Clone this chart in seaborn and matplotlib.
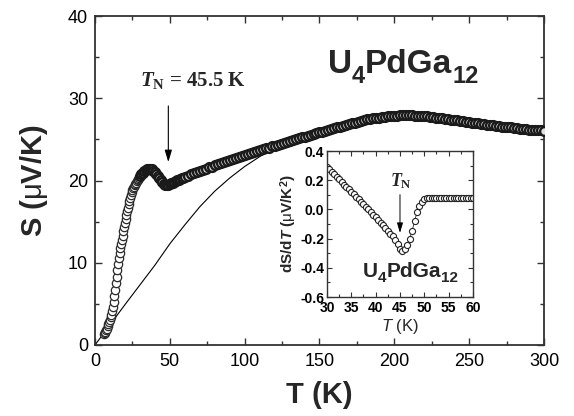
import numpy as np
import pandas as pd
import matplotlib
matplotlib.use("Agg")
import matplotlib.pyplot as plt
from matplotlib.transforms import offset_copy
import seaborn as sns

# ---------------- data ----------------
T_low = [6.0, 6.5, 7.0, 7.5, 8.0, 8.5, 9.0, 9.5, 10.0, 10.5, 11.0, 11.5, 12.0, 12.5,
         13.0, 13.5, 14.0, 14.5, 15.0, 15.5, 16.0, 16.5, 17.0, 17.5, 18.0, 18.5, 19.0,
         19.5, 20.0, 20.5, 21.0, 21.5, 22.0, 22.5, 23.0, 23.5, 24.0, 24.5, 25.0, 25.5,
         26.0, 26.5, 27.0, 27.5, 28.0, 28.5, 29.0, 29.5]
S_low = [1.3, 1.45, 1.6, 1.8, 2.0, 2.25, 2.5, 2.75, 3.0, 3.35, 3.7, 4.1, 4.6, 5.2,
         5.9, 6.7, 7.5, 8.3, 9.1, 9.9, 10.6, 11.2, 11.8, 12.3, 12.8, 13.3, 13.8,
         14.3, 14.8, 15.3, 15.8, 16.3, 16.7, 17.1, 17.5, 17.9, 18.25, 18.55, 18.85, 19.05,
         19.2, 19.4, 19.6, 19.75, 19.9, 20.05, 20.2, 20.35]

T_mid = [30, 31, 32, 33, 34, 35, 36, 37, 38, 39, 40, 41, 42, 43, 44, 45, 46, 47, 48,
         49, 50, 51, 52, 53, 54, 55, 56, 57, 58, 59]
S_mid = [20.5, 20.75, 20.95, 21.1, 21.25, 21.35, 21.4, 21.4, 21.35, 21.2, 21.0, 20.8,
         20.55, 20.3, 20.05, 19.8, 19.6, 19.45, 19.4, 19.45, 19.55, 19.65, 19.75, 19.85,
         19.95, 20.05, 20.1, 20.2, 20.3, 20.35]

T_high = [60, 62, 64, 66, 68, 70, 72, 74, 76, 78, 80, 82, 84, 86, 88, 90, 92, 94, 96, 98,
          100, 102, 104, 106, 108, 110, 112, 114, 116, 118, 120, 122, 124, 126, 128, 130,
          132, 134, 136, 138, 140, 142, 144, 146, 148, 150, 152, 154, 156, 158, 160, 162,
          164, 166, 168, 170, 172, 174, 176, 178, 180, 182, 184, 186, 188, 190, 192, 194,
          196, 198, 200, 202, 204, 206, 208, 210, 212, 214, 216, 218, 220, 222, 224, 226,
          228, 230, 232, 234, 236, 238, 240, 242, 244, 246, 248, 250, 252, 254, 256, 258,
          260, 262, 264, 266, 268, 270, 272, 274, 276, 278, 280, 282, 284, 286, 288, 290,
          292, 294, 296, 298, 300]
S_high = [20.45, 20.6, 20.75, 20.9, 21.05, 21.2, 21.3, 21.45, 21.6, 21.7, 21.85, 21.95,
          22.1, 22.2, 22.35, 22.45, 22.6, 22.7, 22.85, 22.95, 23.1, 23.2, 23.3, 23.45,
          23.55, 23.65, 23.8, 23.9, 24.0, 24.15, 24.25, 24.35, 24.45, 24.6, 24.7, 24.8,
          24.9, 25.0, 25.15, 25.25, 25.35, 25.45, 25.55, 25.65, 25.75, 25.85, 25.95, 26.05,
          26.15, 26.25, 26.35, 26.45, 26.55, 26.65, 26.75, 26.85, 26.95, 27.05, 27.15,
          27.25, 27.35, 27.45, 27.5, 27.55, 27.6, 27.65, 27.7, 27.75, 27.8, 27.85, 27.9,
          27.9, 27.95, 27.95, 27.95, 27.95, 27.95, 27.9, 27.9, 27.85, 27.85, 27.8, 27.75,
          27.7, 27.65, 27.6, 27.55, 27.5, 27.45, 27.4, 27.35, 27.3, 27.25, 27.2, 27.15,
          27.1, 27.05, 27.0, 26.95, 26.9, 26.85, 26.8, 26.75, 26.7, 26.65, 26.6, 26.55,
          26.5, 26.5, 26.45, 26.4, 26.35, 26.3, 26.3, 26.25, 26.2, 26.2, 26.15, 26.1,
          26.1, 26.05]

fit_T = [0, 10, 20, 30, 40, 50, 60, 70, 80, 90, 100, 110, 120, 130, 140, 150, 160, 170,
         180, 190, 200, 210, 220, 230, 240, 250, 260, 270, 280, 290, 300]
fit_S = [0.0, 2.45, 4.9, 7.3, 9.7, 12.3, 14.6, 16.8, 18.7, 20.3, 21.7, 22.9, 23.9, 24.8,
         25.4, 25.85, 26.35, 26.85, 27.35, 27.65, 27.9, 27.95, 27.85, 27.6, 27.35, 27.1,
         26.85, 26.6, 26.4, 26.2, 26.05]

ins_T = [30.0, 30.5, 31.0, 31.5, 32.0, 32.5, 33.0, 33.5, 34.0, 34.5, 35.0, 35.5, 36.0,
         36.5, 37.0, 37.5, 38.0, 38.5, 39.0, 39.5, 40.0, 40.5, 41.0, 41.5, 42.0, 42.5,
         43.0, 43.5, 44.0, 44.5, 45.0, 45.5, 46.0, 46.5, 47.0, 47.5, 48.0, 48.5, 49.0,
         49.5, 50.0, 50.5, 51.0, 51.5, 52.0, 52.5, 53.0, 53.5, 54.0, 54.5, 55.0, 55.5,
         56.0, 56.5, 57.0, 57.5, 58.0, 58.5, 59.0, 59.5, 60.0]
ins_dS = [0.29, 0.275, 0.255, 0.24, 0.22, 0.205, 0.19, 0.17, 0.155, 0.14, 0.12, 0.105,
          0.085, 0.07, 0.05, 0.035, 0.015, 0.0, -0.02, -0.035, -0.055, -0.075, -0.09,
          -0.11, -0.125, -0.145, -0.165, -0.185, -0.21, -0.24, -0.27, -0.285, -0.27,
          -0.245, -0.2, -0.145, -0.08, -0.02, 0.025, 0.05, 0.07, 0.08, 0.08, 0.08, 0.08,
          0.08, 0.08, 0.08, 0.08, 0.08, 0.08, 0.08, 0.08, 0.08, 0.08, 0.08, 0.08, 0.08,
          0.08, 0.08, 0.08]

main_xticks = [0, 50, 100, 150, 200, 250, 300]
main_yticks = [0, 10, 20, 30, 40]
ins_xticks = [30, 35, 40, 45, 50, 55, 60]
ins_yticks = [-0.6, -0.4, -0.2, 0.0, 0.2, 0.4]
ins_yticklabels = ["-0.6", "-0.4", "-0.2", "0.0", "0.2", "0.4"]

formula_parts = [("U", False), ("4", True), ("PdGa", False), ("12", True)]

# ---------------- style ----------------
sns.set_theme(style="ticks")
plt.rcParams["font.family"] = ["Liberation Sans", "DejaVu Sans"]
plt.rcParams["mathtext.fontset"] = "custom"
plt.rcParams["mathtext.rm"] = "Liberation Sans"
plt.rcParams["mathtext.bf"] = "Liberation Sans:bold"
plt.rcParams["mathtext.it"] = "Liberation Serif:italic:bold"
plt.rcParams["mathtext.cal"] = "Liberation Serif:bold"
plt.rcParams["mathtext.sf"] = "Liberation Sans:italic:bold"
plt.rcParams["mathtext.tt"] = "Liberation Sans:italic"

low_df = pd.DataFrame({"T": T_low, "S": S_low})
band_df = pd.DataFrame({"T": T_mid + T_high, "S": S_mid + S_high})
fit_df = pd.DataFrame({"T": fit_T, "S": fit_S})
ins_df = pd.DataFrame({"T": ins_T, "dS": ins_dS})

fig = plt.figure(figsize=(5.74, 4.16), dpi=100)
renderer = fig.canvas.get_renderer()


def formula(axis, x, y, big, small, drop):
    cur = 0.0
    for s, is_sub in formula_parts:
        size = small if is_sub else big
        dy = -drop if is_sub else 0.0
        tr = offset_copy(axis.transData, fig=fig, x=cur, y=dy, units="points")
        t = axis.text(x, y, s, transform=tr, fontsize=size, fontweight="bold",
                      ha="left", va="baseline", zorder=6)
        cur += t.get_window_extent(renderer).width * 72.0 / fig.dpi


ax = fig.add_axes([0.1655, 0.1707, 0.7822, 0.7908])

spine_c = "#333333"
sns.lineplot(data=fit_df, x="T", y="S", ax=ax, color="black", linewidth=0.8, zorder=2)
sns.scatterplot(data=low_df, x="T", y="S", ax=ax, marker="o", s=36,
                facecolor="white", edgecolor="#2a2a2a", linewidth=0.9, zorder=3)
sns.scatterplot(data=band_df, x="T", y="S", ax=ax, marker="o", s=40,
                facecolor="#e0e0e0", edgecolor="#1a1a1a", linewidth=1.7, zorder=3)

ax.set_xlim(0, 300)
ax.set_ylim(0, 40)
ax.set_xticks(main_xticks)
ax.set_yticks(main_yticks)
ax.set_xticks([25, 75, 125, 175, 225, 275], minor=True)
ax.set_yticks([5, 15, 25, 35], minor=True)
ax.tick_params(which="both", direction="in", top=True, right=True, colors=spine_c,
               labelcolor="black", width=1.0)
ax.tick_params(which="major", length=5, labelsize=13)
ax.tick_params(axis="x", which="major", pad=6)
ax.tick_params(axis="y", which="major", pad=5)
ax.tick_params(which="minor", length=3)
for sp in ax.spines.values():
    sp.set_color(spine_c)
    sp.set_linewidth(1.3)
ax.set_xlabel("T (K)", fontsize=21, fontweight="bold", labelpad=8)
ax.set_ylabel(r"S ($\mathrm{\mu}$V/K)", fontsize=21, fontweight="bold", labelpad=13)

ax.text(30.0, 31.5, r"$\mathit{T}_{\mathcal{N}}$ = 45.5 K", fontsize=15,
        family="Liberation Serif", fontweight="bold", ha="left", va="baseline")
ax.annotate("", xy=(49, 21.9), xytext=(49, 29.4),
            arrowprops=dict(arrowstyle="-|>,head_length=0.6,head_width=0.18",
                            color="black", lw=0.8))
formula(ax, 155.5, 33.1, 24, 17, 7.5)

# ---------------- inset ----------------
axin = fig.add_axes([0.5697, 0.286, 0.2543, 0.351])
axin.set_facecolor("white")
sns.lineplot(data=ins_df, x="T", y="dS", ax=axin, color="#222222", linewidth=0.6,
             marker="o", markersize=4.4, markerfacecolor="white",
             markeredgecolor="#222222", markeredgewidth=0.8)
axin.set_xlim(30, 60)
axin.set_ylim(-0.6, 0.4)
axin.set_xticks(ins_xticks)
axin.set_yticks(ins_yticks)
axin.set_yticklabels(ins_yticklabels)
axin.set_xticks([32.5, 37.5, 42.5, 47.5, 52.5, 57.5], minor=True)
axin.set_yticks([-0.5, -0.3, -0.1, 0.1, 0.3], minor=True)
axin.tick_params(which="both", direction="in", top=True, right=True, colors=spine_c,
                 labelcolor="black", width=0.8)
axin.tick_params(axis="x", which="major", length=3.5, labelsize=10, pad=3)
axin.tick_params(axis="y", which="major", length=3.5, labelsize=10, pad=2)
axin.tick_params(which="minor", length=2)
for lab in axin.get_xticklabels() + axin.get_yticklabels():
    lab.set_fontweight("bold")
for sp in axin.spines.values():
    sp.set_color(spine_c)
    sp.set_linewidth(1.0)
axin.set_xlabel(r"$\mathtt{T}$ (K)", fontsize=12, labelpad=1)
axin.set_ylabel(r"dS/d$\mathsf{T}$ ($\mathrm{\mu}$V/K$^{\mathbf{2}}$)", fontsize=11,
                fontweight="bold", labelpad=1)
axin.text(43.0, 0.16, r"$\mathit{T}_{\mathcal{N}}$", fontsize=13,
          family="Liberation Serif", ha="left", va="baseline")
axin.annotate("", xy=(45, -0.18), xytext=(45, 0.12),
              arrowprops=dict(arrowstyle="-|>,head_length=0.5,head_width=0.15",
                              color="black", lw=0.7))
formula(axin, 37.4, -0.461, 15, 11, 4.0)

fig.savefig("out.png", dpi=100)
